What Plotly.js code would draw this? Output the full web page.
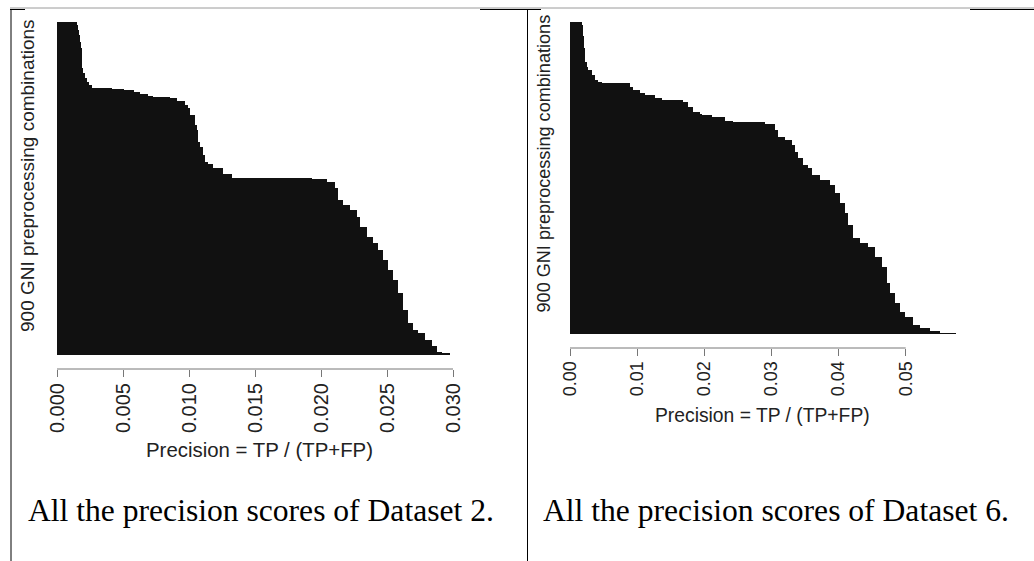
<!DOCTYPE html>
<html>
<head>
<meta charset="utf-8">
<script src="https://cdn.plot.ly/plotly-3.0.1.min.js"></script>
<style>
  html, body { margin: 0; padding: 0; background: #ffffff; }
  #chart { width: 1034px; height: 561px; }
</style>
</head>
<body>
<div id="chart"></div>
<script>
// ---- Data (sorted precision scores, runs of equal value) ----
// Dataset 2: precision values (top bar to bottom bar) and how many of the 900 combinations share each
const ds2Precision = [0.00149, 0.00160, 0.00168, 0.00174, 0.00181, 0.00187, 0.00193, 0.00199, 0.00212, 0.00225,
  0.00240, 0.00263, 0.00300, 0.00420, 0.00510, 0.00580, 0.00629, 0.00692, 0.00730, 0.00856,
  0.00907, 0.00970, 0.00990, 0.01008, 0.01045, 0.01058, 0.01070, 0.01083, 0.01109, 0.01121,
  0.01146, 0.01184, 0.01260, 0.01323, 0.01348, 0.01930, 0.02043, 0.02106, 0.02131, 0.02170,
  0.02220, 0.02270, 0.02295, 0.02346, 0.02396, 0.02434, 0.02472, 0.02510, 0.02548, 0.02586,
  0.02624, 0.02662, 0.02700, 0.02737, 0.02788, 0.02838, 0.02876, 0.02914, 0.02977, 0.03104];
const ds2Count = [9, 14, 13, 20, 15, 27, 27, 14, 13, 10,
  9, 7, 2, 2, 3, 4, 7, 4, 2, 5,
  7, 10, 10, 18, 27, 13, 32, 13, 23, 18,
  7, 11, 16, 9, 1, 2, 9, 17, 32, 13,
  14, 18, 27, 27, 17, 18, 27, 27, 27, 36,
  45, 36, 18, 9, 18, 18, 14, 4, 4, 1];

// Dataset 6
const ds6Precision = [0.00174, 0.00199, 0.00212, 0.00223, 0.00248, 0.00273, 0.00323, 0.00372, 0.00422, 0.00470,
  0.00894, 0.00943, 0.01043, 0.01117, 0.01266, 0.01365, 0.01688, 0.01762, 0.01837, 0.01936,
  0.01961, 0.02110, 0.02309, 0.02433, 0.02904, 0.03053, 0.03103, 0.03202, 0.03302, 0.03351,
  0.03401, 0.03475, 0.03550, 0.03600, 0.03724, 0.03872, 0.03947, 0.04021, 0.04096, 0.04145,
  0.04220, 0.04319, 0.04443, 0.04543, 0.04642, 0.04717, 0.04766, 0.04841, 0.04915, 0.04990,
  0.05113, 0.05213, 0.05362, 0.05511, 0.05749];
const ds6Count = [10, 31, 36, 38, 15, 9, 15, 14, 5, 5,
  9, 10, 9, 5, 10, 5, 6, 13, 14, 8,
  2, 5, 12, 4, 6, 16, 19, 10, 14, 20,
  19, 19, 10, 19, 14, 15, 24, 28, 29, 34,
  38, 15, 9, 29, 29, 48, 29, 29, 24, 14,
  24, 10, 7, 5, 4];

// Tick labels
const ds2TickVals = [0, 0.005, 0.010, 0.015, 0.020, 0.025, 0.030];
const ds2TickText = ['0.000', '0.005', '0.010', '0.015', '0.020', '0.025', '0.030'];
const ds6TickVals = [0, 0.01, 0.02, 0.03, 0.04, 0.05];
const ds6TickText = ['0.00', '0.01', '0.02', '0.03', '0.04', '0.05'];

// Texts
const xTitle = 'Precision = TP / (TP+FP)';
const yTitle = '900 GNI preprocessing combinations';
const caption2 = 'All the precision scores of Dataset 2.';
const caption6 = 'All the precision scores of Dataset 6.';

// ---- Layout helpers (pixel -> paper) ----
const W = 1034, H = 561;
const px = v => v / W;
const py = v => 1 - v / H;

function runsToBar(values, counts, xa, ya) {
  const ys = [], ws = [];
  let start = 0;
  for (let i = 0; i < values.length; i++) {
    ys.push(start + counts[i] / 2);
    ws.push(counts[i]);
    start += counts[i];
  }
  return {
    type: 'bar', orientation: 'h',
    x: values, y: ys, width: ws,
    xaxis: xa, yaxis: ya,
    marker: { color: '#111111', line: { width: 0 } },
    hoverinfo: 'skip', showlegend: false
  };
}

const sans = 'Liberation Sans, Arial, Helvetica, sans-serif';
const serif = 'Liberation Serif, Times New Roman, serif';
const axisGray = '#222222';

const traces = [
  runsToBar(ds2Precision, ds2Count, 'x', 'y'),
  runsToBar(ds6Precision, ds6Count, 'x2', 'y2')
];

const leftMax = 0.0315, rightMax = 0.058;
const leftX0 = 57, leftScale = 13200;
const rightX0 = 570, rightScale = 6714;
const leftAxisY = 369, rightAxisY = 348;

function xAxisDef(x0, scale, maxV, axisY, tv, tt, fs) {
  return {
    domain: [px(x0), px(x0 + maxV * scale)],
    range: [0, maxV],
    anchor: 'free', position: py(axisY),
    showgrid: false, zeroline: false, showline: false,
    ticks: 'outside', ticklen: 7, tickwidth: 1, tickcolor: '#777777',
    ticklabelstandoff: -2,
    tickvals: tv, ticktext: tt, tickangle: -90,
    tickfont: { family: sans, size: fs, color: axisGray },
    fixedrange: true
  };
}
function yAxisDef(top, bottom) {
  return {
    domain: [py(bottom), py(top)],
    range: [900, 0],
    showgrid: false, zeroline: false, showline: false,
    showticklabels: false, ticks: '',
    fixedrange: true
  };
}

const shapes = [
  // table frame (page borders)
  { type: 'line', xref: 'paper', yref: 'paper', x0: px(10), x1: px(1034), y0: py(8), y1: py(8), line: { color: '#9a9a9a', width: 1 } },
  { type: 'line', xref: 'paper', yref: 'paper', x0: px(10), x1: px(25), y0: py(9.5), y1: py(9.5), line: { color: '#000', width: 1 } },
  { type: 'line', xref: 'paper', yref: 'paper', x0: px(480), x1: px(541), y0: py(9.5), y1: py(9.5), line: { color: '#000', width: 1 } },
  { type: 'line', xref: 'paper', yref: 'paper', x0: px(970), x1: px(1034), y0: py(9.5), y1: py(9.5), line: { color: '#000', width: 1 } },
  { type: 'line', xref: 'paper', yref: 'paper', x0: px(11), x1: px(11), y0: py(9), y1: py(561), line: { color: '#000', width: 1 } },
  { type: 'line', xref: 'paper', yref: 'paper', x0: px(527.5), x1: px(527.5), y0: py(9), y1: py(561), line: { color: '#000', width: 1 } },
  // axis lines spanning first to last tick
  { type: 'line', xref: 'x', yref: 'paper', x0: ds2TickVals[0], x1: ds2TickVals[ds2TickVals.length - 1], y0: py(leftAxisY), y1: py(leftAxisY), line: { color: '#777777', width: 1 } },
  { type: 'line', xref: 'x2', yref: 'paper', x0: ds6TickVals[0], x1: ds6TickVals[ds6TickVals.length - 1], y0: py(rightAxisY), y1: py(rightAxisY), line: { color: '#777777', width: 1 } }
];

const annotations = [
  { text: xTitle, xref: 'paper', yref: 'paper', x: px(259), y: py(450), xanchor: 'center', yanchor: 'middle', showarrow: false, font: { family: sans, size: 20.4, color: axisGray } },
  { text: xTitle, xref: 'paper', yref: 'paper', x: px(762.5), y: py(415), xanchor: 'center', yanchor: 'middle', showarrow: false, font: { family: sans, size: 19.3, color: axisGray } },
  { text: yTitle, xref: 'paper', yref: 'paper', x: px(27), y: py(176), xanchor: 'center', yanchor: 'middle', textangle: -90, showarrow: false, font: { family: sans, size: 19, color: axisGray } },
  { text: yTitle, xref: 'paper', yref: 'paper', x: px(543), y: py(163.5), xanchor: 'center', yanchor: 'middle', textangle: -90, showarrow: false, font: { family: sans, size: 18.1, color: axisGray } },
  { text: caption2, xref: 'paper', yref: 'paper', x: px(25.5), y: py(510.5), xanchor: 'left', yanchor: 'middle', showarrow: false, font: { family: serif, size: 31.6, color: '#000' } },
  { text: caption6, xref: 'paper', yref: 'paper', x: px(540.5), y: py(510.5), xanchor: 'left', yanchor: 'middle', showarrow: false, font: { family: serif, size: 31.6, color: '#000' } }
];

const layout = {
  width: W, height: H,
  margin: { l: 0, r: 0, t: 0, b: 0, pad: 0 },
  paper_bgcolor: '#ffffff', plot_bgcolor: 'rgba(0,0,0,0)',
  showlegend: false, bargap: 0,
  xaxis: xAxisDef(leftX0, leftScale, leftMax, leftAxisY, ds2TickVals, ds2TickText, 20),
  yaxis: yAxisDef(21.7, 355),
  xaxis2: xAxisDef(rightX0, rightScale, rightMax, rightAxisY, ds6TickVals, ds6TickText, 18),
  yaxis2: yAxisDef(21.7, 334),
  shapes: shapes,
  annotations: annotations
};

Plotly.newPlot('chart', traces, layout, { staticPlot: true, displayModeBar: false });
</script>
</body>
</html>
